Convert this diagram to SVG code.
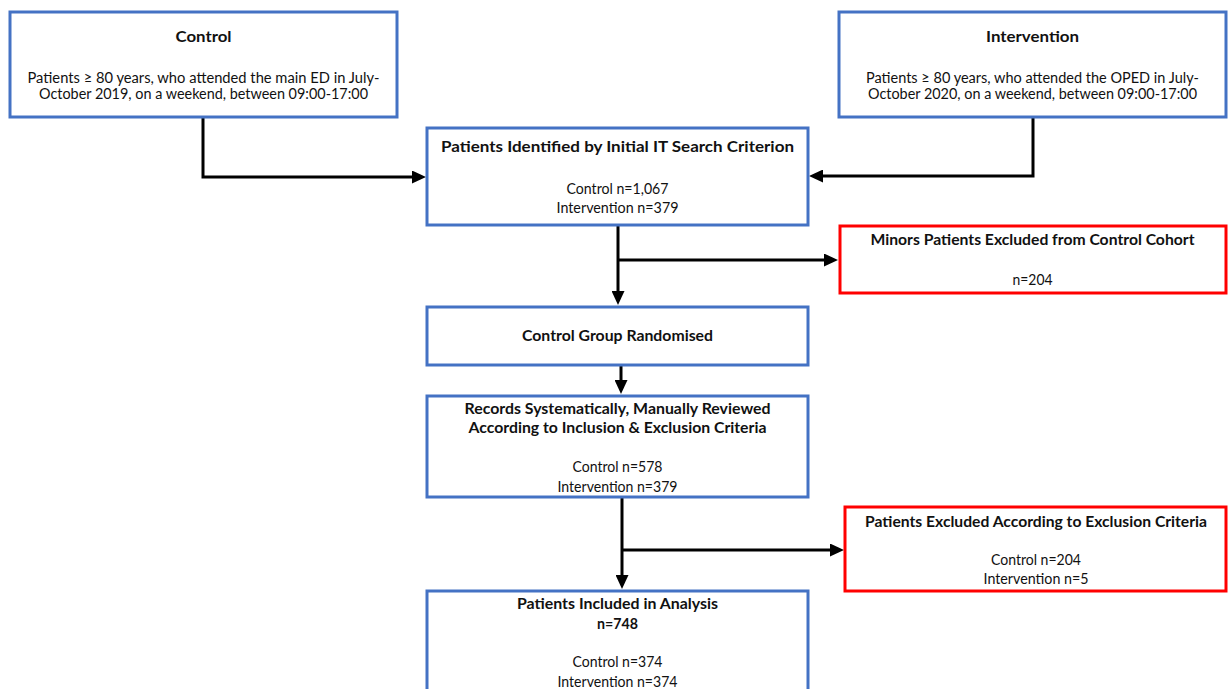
<svg xmlns="http://www.w3.org/2000/svg" width="1228" height="689" viewBox="0 0 1228 689">
<style>
.box{fill:#ffffff;stroke:#4472C4;stroke-width:3}
.rbox{fill:#ffffff;stroke:#FF0000;stroke-width:3}
text{font-family:Lato,"Open Sans","Liberation Sans",sans-serif;font-size:15.5px;fill:#111111;text-anchor:middle}
.t{font-weight:bold}
.c{fill:none;stroke:#000000;stroke-width:3}
</style>
<defs>
<marker id="arr" markerUnits="userSpaceOnUse" markerWidth="14" markerHeight="13" refX="1" refY="6.5" orient="auto">
<path d="M0,0 L14,6.5 L0,13 z" fill="#000000"/>
</marker>
</defs>
<rect width="1228" height="689" fill="#ffffff"/>
<g id="connectors">
<path class="c" d="M203,118 V177 H413" marker-end="url(#arr)"/>
<path class="c" d="M1033,117 V176 H822" marker-end="url(#arr)"/>
<path class="c" d="M618,225 V292" marker-end="url(#arr)"/>
<path class="c" d="M618,260 H825" marker-end="url(#arr)"/>
<path class="c" d="M621,365 V381" marker-end="url(#arr)"/>
<path class="c" d="M622,497 V576" marker-end="url(#arr)"/>
<path class="c" d="M622,550 H831" marker-end="url(#arr)"/>
</g>
<g id="control">
<rect class="box" x="10" y="12" width="387" height="105"/>
<text class="t" x="203.5" y="42" textLength="56" lengthAdjust="spacingAndGlyphs">Control</text>
<text x="203.5" y="83" textLength="352" lengthAdjust="spacingAndGlyphs">Patients ≥ 80 years, who attended the main ED in July-</text>
<text x="203.5" y="99" textLength="329" lengthAdjust="spacingAndGlyphs">October 2019, on a weekend, between 09:00-17:00</text>
</g>
<g id="intervention">
<rect class="box" x="839" y="12" width="387" height="105"/>
<text class="t" x="1032.5" y="42" textLength="93" lengthAdjust="spacingAndGlyphs">Intervention</text>
<text x="1032.5" y="83" textLength="333" lengthAdjust="spacingAndGlyphs">Patients ≥ 80 years, who attended the OPED in July-</text>
<text x="1032.5" y="99" textLength="329" lengthAdjust="spacingAndGlyphs">October 2020, on a weekend, between 09:00-17:00</text>
</g>
<g id="identified">
<rect class="box" x="427" y="128" width="381" height="97"/>
<text class="t" x="617.5" y="152" textLength="353" lengthAdjust="spacingAndGlyphs">Patients Identified by Initial IT Search Criterion</text>
<text x="617.5" y="194" textLength="102" lengthAdjust="spacingAndGlyphs">Control n=1,067</text>
<text x="617.5" y="213" textLength="122" lengthAdjust="spacingAndGlyphs">Intervention n=379</text>
</g>
<g id="minors">
<rect class="rbox" x="840" y="226" width="386" height="67"/>
<text class="t" x="1032.5" y="245" textLength="324" lengthAdjust="spacingAndGlyphs">Minors Patients Excluded from Control Cohort</text>
<text x="1032.5" y="285" textLength="40" lengthAdjust="spacingAndGlyphs">n=204</text>
</g>
<g id="randomised">
<rect class="box" x="427" y="307" width="381" height="58"/>
<text class="t" x="617.5" y="341" textLength="191" lengthAdjust="spacingAndGlyphs">Control Group Randomised</text>
</g>
<g id="reviewed">
<rect class="box" x="427" y="396" width="381" height="101"/>
<text class="t" x="617.5" y="414" textLength="306" lengthAdjust="spacingAndGlyphs">Records Systematically, Manually Reviewed</text>
<text class="t" x="617.5" y="433" textLength="298" lengthAdjust="spacingAndGlyphs">According to Inclusion &amp; Exclusion Criteria</text>
<text x="617.5" y="472" textLength="90" lengthAdjust="spacingAndGlyphs">Control n=578</text>
<text x="617.5" y="492" textLength="120" lengthAdjust="spacingAndGlyphs">Intervention n=379</text>
</g>
<g id="excluded">
<rect class="rbox" x="845" y="507" width="381" height="84"/>
<text class="t" x="1036" y="527" textLength="342" lengthAdjust="spacingAndGlyphs">Patients Excluded According to Exclusion Criteria</text>
<text x="1036" y="565" textLength="90" lengthAdjust="spacingAndGlyphs">Control n=204</text>
<text x="1036" y="584" textLength="105" lengthAdjust="spacingAndGlyphs">Intervention n=5</text>
</g>
<g id="included">
<rect class="box" x="427" y="591" width="381" height="110"/>
<text class="t" x="617.5" y="609" textLength="201" lengthAdjust="spacingAndGlyphs">Patients Included in Analysis</text>
<text class="t" x="617.5" y="629" textLength="41" lengthAdjust="spacingAndGlyphs">n=748</text>
<text x="617.5" y="667" textLength="90" lengthAdjust="spacingAndGlyphs">Control n=374</text>
<text x="617.5" y="687" textLength="120" lengthAdjust="spacingAndGlyphs">Intervention n=374</text>
</g>
</svg>
